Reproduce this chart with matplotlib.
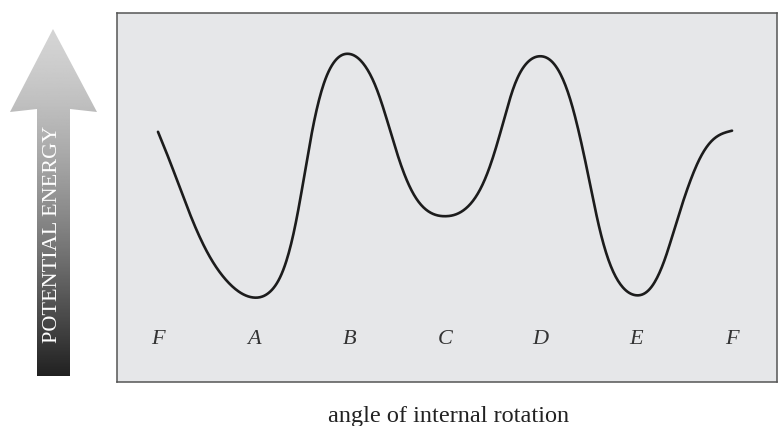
import numpy as np
import matplotlib
matplotlib.use("Agg")
import matplotlib.pyplot as plt
from matplotlib.patches import Polygon

# ---- data (angle of internal rotation in degrees, relative potential energy) ----
angle = [0, 7.5, 15.9, 24.3, 32.6, 43.1, 59.8, 70.2, 78.6, 84.9, 89.1, 92.2,
         97.4, 103.7, 109.9, 119.4, 128.8, 137.2, 144.4, 151.8, 160.1, 170.6,
         180.0, 193.6, 204.0, 210.3, 216.6, 222.8, 231.2, 239.6, 250.0, 258.4,
         264.7, 270.9, 276.2, 282.5, 290.9, 299.3, 309.7, 318.1, 324.4, 331.6,
         339.9, 348.3, 360.0]
energy = [67.7, 60.0, 50.1, 41.0, 33.8, 27.5, 23.0, 24.7, 30.2, 39.2, 48.5, 57.3,
          70.8, 80.8, 86.2, 88.7, 86.2, 79.9, 69.9, 59.1, 50.9, 46.0,
          45.1, 47.3, 53.7, 60.9, 69.9, 80.8, 86.2, 88.0, 85.3, 77.2,
          66.3, 54.6, 41.7, 32.9, 26.1, 23.8, 25.7, 32.9, 42.8, 51.8,
          60.9, 65.9, 67.9]
conf_labels = ["F", "A", "B", "C", "D", "E", "F"]
conf_angles = [0, 60, 120, 180, 240, 300, 360]

W, H = 779, 427
fig = plt.figure(figsize=(W / 100, H / 100), dpi=100)
fig.patch.set_facecolor("white")

# main plot box (pixel geometry: x 117..777, y 14..383)
ax = fig.add_axes([117 / W, (H - 383) / H, (777 - 117) / W, (383 - 14) / H])
ax.set_facecolor("#e6e7e9")
for s in ax.spines.values():
    s.set_color("#555555")
    s.set_linewidth(1.1)
ax.set_xticks([])
ax.set_yticks([])
ax.set_xlim(-25.7, 388.2)
ax.set_ylim(0, 100)


def smooth_curve(xs, ys, step=0.5, lam=400.0):
    """Penalised least-squares (smoothing-spline-like) curve through the read points."""
    x = np.asarray(xs, float)
    y = np.asarray(ys, float)
    grid = np.arange(x[0], x[-1] + step / 2, step)
    n = len(grid)
    B = np.zeros((len(x), n))
    for k, xv in enumerate(x):
        j = min(int((xv - grid[0]) / step), n - 2)
        w = (xv - grid[j]) / step
        B[k, j] += 1 - w
        B[k, j + 1] += w
    D = np.diff(np.eye(n), 2, axis=0)
    z = np.linalg.solve(B.T @ B + lam * D.T @ D, B.T @ y)
    return grid, z


sx, sy = smooth_curve(angle, energy)
ax.plot(sx, sy, color="#1c1c1c", lw=1.9, solid_capstyle="round")

for lab, a in zip(conf_labels, conf_angles):
    ax.text(a, 11.7, lab, ha="center", va="center", fontsize=16,
            family="Liberation Serif", style="italic", color="#333333")

# overlay in pixel coordinates for the arrow and x label
ov = fig.add_axes([0, 0, 1, 1], zorder=-1)
ov.set_xlim(0, W)
ov.set_ylim(H, 0)
ov.axis("off")

arrow_pts = [(53, 30), (97, 113), (70, 110), (70, 377), (37, 377), (37, 110), (10, 113)]
poly = Polygon(arrow_pts, closed=True, facecolor="none", edgecolor="none")
ov.add_patch(poly)
g = np.linspace(0, 1, 256)[:, None]
vals = 0.83 - 0.70 * g ** 1.4
img = np.repeat(vals, 2, axis=1)
im = ov.imshow(img, cmap="gray", vmin=0, vmax=1, extent=[10, 97, 377, 30],
               aspect="auto", interpolation="bilinear")
im.set_clip_path(poly)
ov.set_xlim(0, W)
ov.set_ylim(H, 0)

ov.text(53, 234, "POTENTIAL ENERGY", rotation=90, ha="center", va="center",
        fontsize=16, family="Liberation Serif", color="white")
ov.text(449, 417, "angle of internal rotation", ha="center", va="center",
        fontsize=17.5, family="Liberation Serif", color="#222222")

fig.savefig("out.png", dpi=100, facecolor="white")
